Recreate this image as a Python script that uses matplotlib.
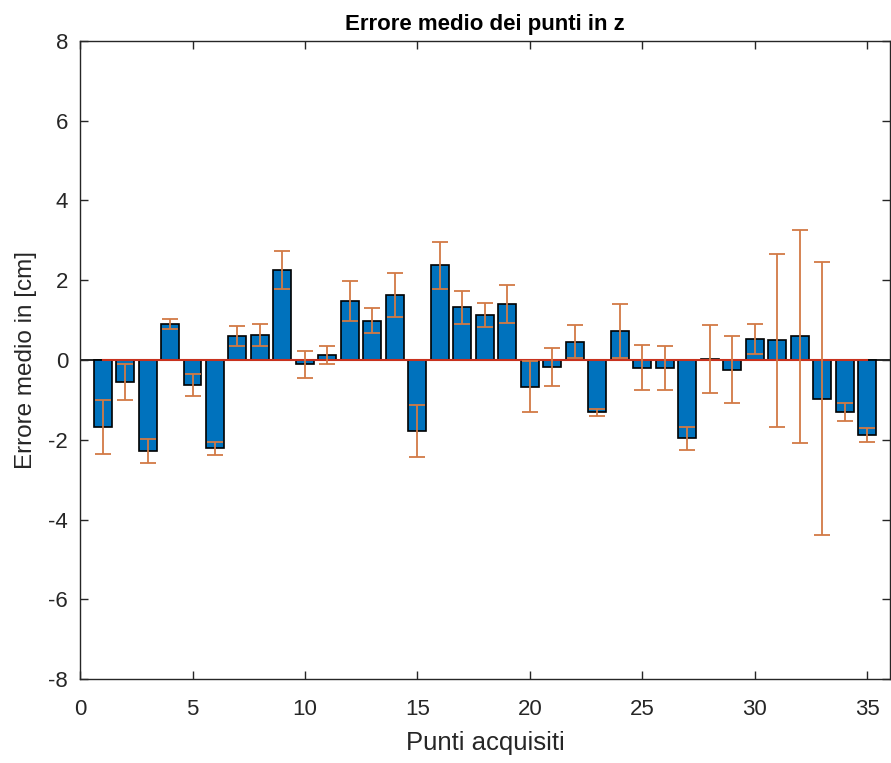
import numpy as np
import matplotlib
matplotlib.use('Agg')
from matplotlib import pyplot as plt

plt.rcParams['font.family'] = ['Liberation Sans', 'DejaVu Sans']
plt.rcParams['axes.unicode_minus'] = False

punti = np.arange(1, 36)
errore = [-1.68, -0.56, -2.28, 0.90, -0.62, -2.21, 0.61, 0.63, 2.26, -0.11,
          0.13, 1.48, 0.99, 1.63, -1.78, 2.38, 1.32, 1.13, 1.40, -0.67,
          -0.18, 0.46, -1.31, 0.73, -0.19, -0.19, -1.96, 0.02, -0.24, 0.53,
          0.49, 0.59, -0.97, -1.30, -1.88]
dev = [0.68, 0.45, 0.30, 0.12, 0.28, 0.16, 0.25, 0.28, 0.48, 0.33,
       0.23, 0.49, 0.32, 0.54, 0.64, 0.59, 0.41, 0.30, 0.47, 0.64,
       0.47, 0.41, 0.09, 0.67, 0.56, 0.55, 0.29, 0.85, 0.84, 0.38,
       2.18, 2.68, 3.42, 0.23, 0.17]

grigio = '#262626'

fig = plt.figure(figsize=(8.91, 7.63), dpi=100)
ax = fig.add_axes([0.0898, 0.110, 0.909, 0.8363])

ax.axhline(0, color='black', linewidth=1.2, zorder=1)
ax.bar(punti, errore, width=0.8, color='#0072BD', edgecolor='black', linewidth=1.2, zorder=2)
ax.plot(punti, np.zeros(len(punti)), color='#c8321e', linewidth=1.5, zorder=3)
ax.errorbar(punti, errore, yerr=dev, fmt='none', ecolor='#d27a45', elinewidth=1.3,
            capsize=6, capthick=1.3, zorder=4)

ax.set_xlim(0, 36)
ax.set_ylim(-8, 8)
ax.set_xticks(np.arange(0, 36, 5))
ax.set_yticks(np.arange(-8, 9, 2))
ax.tick_params(direction='in', top=True, right=True, length=6, width=1,
               colors=grigio, labelsize=16)
ax.tick_params(axis='x', pad=14)
ax.tick_params(axis='y', pad=8.5)
for s in ax.spines.values():
    s.set_color(grigio)
    s.set_linewidth(1)

ax.set_title('Errore medio dei punti in z', fontsize=16, fontweight='bold', pad=8)
ax.set_xlabel('Punti acquisiti', fontsize=18.5, color=grigio, labelpad=8)
ax.set_ylabel('Errore medio in [cm]', fontsize=17.5, color=grigio, labelpad=8)

plt.savefig('out.png', dpi=100)
